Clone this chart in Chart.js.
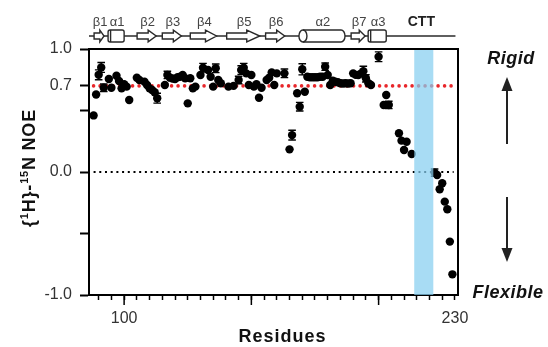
<!DOCTYPE html>
<html>
<head>
<meta charset="utf-8">
<script src="https://cdn.jsdelivr.net/npm/chart.js@4.4.0/dist/chart.umd.min.js"></script>
<style>
  html, body { margin: 0; padding: 0; background: #fff; }
</style>
</head>
<body>
<canvas id="noeChart" width="548" height="347"></canvas>
<script>
/* --- DATA --- */
const residues = [88, 89, 90, 91, 92, 94, 95, 97, 98, 99, 100, 101, 102, 105, 106, 108, 109, 110, 111, 112, 113,
  116, 117, 118, 119, 120, 121, 122, 123, 124, 125, 126, 127, 128, 130, 131, 133, 134, 135, 136, 137, 138,
  141, 143, 145, 146, 147, 148, 149, 150, 151, 152, 153, 154, 156, 157, 158, 159, 160, 163, 165, 166,
  168, 169, 170, 171, 172, 173, 174, 175, 176, 177, 178, 179, 180, 181, 182, 183, 184, 185, 186, 187,
  188, 189, 190, 191, 192, 193, 194, 195, 196, 197, 200, 202, 203, 204, 208, 209, 210, 211, 213,
  222, 223, 224, 225, 226, 227, 228, 229];
const noeValues = [0.46, 0.63, 0.79, 0.85, 0.685, 0.756, 0.685, 0.783, 0.74, 0.68, 0.713, 0.694, 0.585, 0.767, 0.748, 0.734, 0.707, 0.68, 0.667, 0.648, 0.60,
  0.707, 0.789, 0.767, 0.76, 0.756, 0.77, 0.775, 0.789, 0.762, 0.558, 0.762, 0.68, 0.694, 0.789, 0.848, 0.829, 0.775, 0.694, 0.843, 0.748, 0.721,
  0.694, 0.70, 0.748, 0.829, 0.848, 0.802, 0.707, 0.789, 0.694, 0.713, 0.604, 0.685, 0.748, 0.767, 0.81, 0.707, 0.802, 0.802, 0.184, 0.30,
  0.64, 0.531, 0.835, 0.653, 0.775, 0.77, 0.77, 0.77, 0.77, 0.775, 0.775, 0.856, 0.789, 0.707, 0.742, 0.734, 0.73, 0.721, 0.72, 0.721,
  0.72, 0.721, 0.802, 0.79, 0.789, 0.80, 0.82, 0.762, 0.721, 0.707, 0.937, 0.545, 0.626, 0.545, 0.315, 0.255, 0.179, 0.246, 0.146,
  -0.005, -0.024, -0.14, -0.092, -0.241, -0.303, -0.566, -0.832];
const noeErrors = [0, 0, 0.04, 0.04, 0.03, 0, 0, 0, 0, 0, 0, 0, 0, 0, 0, 0, 0, 0, 0, 0, 0.04,
  0, 0.03, 0, 0, 0, 0, 0, 0, 0, 0, 0, 0, 0, 0, 0.035, 0, 0, 0, 0.035, 0, 0,
  0, 0, 0.03, 0.035, 0.035, 0, 0, 0, 0, 0, 0, 0, 0, 0, 0, 0, 0, 0.035, 0, 0.04,
  0, 0.035, 0.045, 0, 0, 0, 0, 0, 0, 0, 0, 0.03, 0, 0, 0, 0, 0, 0, 0, 0,
  0, 0, 0, 0, 0, 0, 0.04, 0.03, 0, 0, 0.04, 0, 0, 0.03, 0, 0, 0, 0, 0,
  0.03, 0, 0, 0, 0, 0, 0, 0];

// secondary structure (residue ranges)
const ssLabels = ['β1', 'α1', 'β2', 'β3', 'β4', 'β5', 'β6', 'α2', 'β7', 'α3'];
const ssKinds = ['E', 'H', 'E', 'E', 'E', 'E', 'E', 'C', 'E', 'H'];
const ssStart = [88.2, 93.7, 105.1, 115.0, 126.0, 140.3, 155.6, 168.7, 189.2, 195.9];
const ssEnd = [92.1, 100.0, 112.6, 122.5, 136.3, 153.3, 163.1, 186.8, 194.7, 203.0];
const topoSpan = [86.2, 230.2];
const cttLabel = 'CTT';
const cttCenter = 216.8;

const flexBand = [214.0, 221.5];
const cutoffLine = 0.7;
const refSpan = [88, 229.5];

const xRange = [86.2, 231.2];
const yRange = [-1, 1];
const yTickValues = [-1, -0.5, 0, 0.5, 0.7, 1];
const yLabelled = [-1, 0, 0.7, 1];
const xTickValues = [];
for (let v = 90; v <= 230; v += 5) xTickValues.push(v);
const xMajor = [100, 150, 200];
const xLabelled = [100, 230];

/* --- PLUGINS --- */
const errorBars = {
  id: 'errorBars',
  afterDatasetsDraw(chart) {
    const { ctx, scales: { x, y } } = chart;
    ctx.save();
    ctx.strokeStyle = '#000';
    ctx.lineWidth = 1.4;
    residues.forEach((r, i) => {
      const e = noeErrors[i];
      if (!e) return;
      const px = x.getPixelForValue(r);
      const hi = y.getPixelForValue(noeValues[i] + e);
      const lo = y.getPixelForValue(noeValues[i] - e);
      ctx.beginPath();
      ctx.moveTo(px, hi); ctx.lineTo(px, lo);
      ctx.moveTo(px - 3.8, hi); ctx.lineTo(px + 3.8, hi);
      ctx.moveTo(px - 3.8, lo); ctx.lineTo(px + 3.8, lo);
      ctx.stroke();
    });
    ctx.restore();
  }
};

const bandPlugin = {
  id: 'band',
  afterDatasetsDraw(chart) {
    const { ctx, chartArea, scales: { x } } = chart;
    const x0 = x.getPixelForValue(flexBand[0]);
    const x1 = x.getPixelForValue(flexBand[1]);
    ctx.save();
    ctx.fillStyle = 'rgba(135, 206, 240, 0.72)';
    ctx.fillRect(x0, chartArea.top, x1 - x0, chartArea.bottom - chartArea.top);
    ctx.restore();
  }
};

function drawTopology(chart) {
  const { ctx, scales: { x } } = chart;
  const cy = 36;
  ctx.save();
  ctx.strokeStyle = '#2a2a2a';
  ctx.lineWidth = 1.4;
  ctx.beginPath();
  ctx.moveTo(x.getPixelForValue(topoSpan[0]), cy);
  ctx.lineTo(x.getPixelForValue(topoSpan[1]), cy);
  ctx.stroke();

  ssLabels.forEach((name, i) => {
    const x0 = x.getPixelForValue(ssStart[i]);
    const x1 = x.getPixelForValue(ssEnd[i]);
    ctx.fillStyle = '#fff';
    ctx.beginPath();
    if (ssKinds[i] === 'E') {
      const head = Math.min(13, (x1 - x0) * 0.42);
      ctx.moveTo(x0, cy - 3);
      ctx.lineTo(x1 - head, cy - 3);
      ctx.lineTo(x1 - head, cy - 5.8);
      ctx.lineTo(x1, cy);
      ctx.lineTo(x1 - head, cy + 5.8);
      ctx.lineTo(x1 - head, cy + 3);
      ctx.lineTo(x0, cy + 3);
      ctx.closePath();
      ctx.fill(); ctx.stroke();
    } else if (ssKinds[i] === 'H') {
      ctx.roundRect(x0, cy - 6, x1 - x0, 12, 2);
      ctx.fill(); ctx.stroke();
      ctx.beginPath();
      ctx.moveTo(x0 + 2.5, cy - 6); ctx.lineTo(x0 + 2.5, cy + 6);
      ctx.stroke();
    } else {
      const rx = 4;
      ctx.moveTo(x0 + rx, cy - 6);
      ctx.lineTo(x1 - rx, cy - 6);
      ctx.ellipse(x1 - rx, cy, rx, 6, 0, -Math.PI / 2, Math.PI / 2);
      ctx.lineTo(x0 + rx, cy + 6);
      ctx.ellipse(x0 + rx, cy, rx, 6, 0, Math.PI / 2, Math.PI * 1.5);
      ctx.closePath();
      ctx.fill(); ctx.stroke();
      ctx.beginPath();
      ctx.ellipse(x0 + rx, cy, rx, 6, 0, -Math.PI / 2, Math.PI / 2);
      ctx.stroke();
    }
    ctx.fillStyle = '#444';
    ctx.font = '13px "Liberation Sans"';
    ctx.textAlign = 'center';
    ctx.textBaseline = 'middle';
    ctx.fillText(name, (x0 + x1) / 2 + 1, 22);
  });

  ctx.fillStyle = '#222';
  ctx.font = 'bold 14px "Liberation Sans"';
  ctx.textAlign = 'center';
  ctx.textBaseline = 'middle';
  ctx.fillText(cttLabel, x.getPixelForValue(cttCenter), 22);
  ctx.restore();
}

function drawYTitle(ctx, cx, cy) {
  const parts = [['{', 18, 0], ['1', 11, -7], ['H}-', 18, 0], ['15', 11, -7], ['N NOE', 18, 0]];
  ctx.save();
  ctx.translate(cx, cy);
  ctx.rotate(-Math.PI / 2);
  ctx.fillStyle = '#111';
  ctx.textAlign = 'left';
  ctx.textBaseline = 'alphabetic';
  let total = 0;
  parts.forEach(p => {
    ctx.font = `bold ${p[1]}px "Liberation Sans"`;
    total += ctx.measureText(p[0]).width + 0.8 * p[0].length;
  });
  let pos = -total / 2;
  parts.forEach(p => {
    ctx.font = `bold ${p[1]}px "Liberation Sans"`;
    ctx.letterSpacing = '0.8px';
    ctx.fillText(p[0], pos, p[2]);
    pos += ctx.measureText(p[0]).width;
  });
  ctx.restore();
}

function drawArrow(ctx, x, yFrom, yTo) {
  const dir = yTo < yFrom ? -1 : 1;
  const headLen = 14;
  ctx.beginPath();
  ctx.moveTo(x, yFrom);
  ctx.lineTo(x, yTo - dir * headLen);
  ctx.stroke();
  ctx.beginPath();
  ctx.moveTo(x, yTo);
  ctx.lineTo(x - 5.5, yTo - dir * headLen);
  ctx.lineTo(x + 5.5, yTo - dir * headLen);
  ctx.closePath();
  ctx.fill();
}

const decorations = {
  id: 'decorations',
  afterDraw(chart) {
    const { ctx, chartArea, scales: { x } } = chart;
    ctx.save();
    // frame (top + right)
    ctx.strokeStyle = '#000';
    ctx.lineWidth = 2;
    ctx.beginPath();
    ctx.moveTo(chartArea.left, chartArea.top);
    ctx.lineTo(chartArea.right, chartArea.top);
    ctx.lineTo(chartArea.right, chartArea.bottom);
    ctx.stroke();

    // longer major ticks on x axis
    ctx.lineWidth = 1.5;
    xMajor.forEach(v => {
      const px = x.getPixelForValue(v);
      ctx.beginPath();
      ctx.moveTo(px, chartArea.bottom);
      ctx.lineTo(px, chartArea.bottom + 10);
      ctx.stroke();
    });

    // axis titles
    ctx.fillStyle = '#111';
    ctx.font = 'bold 18px "Liberation Sans"';
    ctx.letterSpacing = '1px';
    ctx.textAlign = 'center';
    ctx.textBaseline = 'alphabetic';
    ctx.fillText('Residues', (chartArea.left + chartArea.right) / 2 + 9, 342);
    ctx.letterSpacing = '0px';
    drawYTitle(ctx, 35, 168);

    // rigid / flexible annotation
    ctx.fillStyle = '#111';
    ctx.font = 'italic bold 18px "Liberation Sans"';
    ctx.letterSpacing = '0.5px';
    ctx.fillText('Rigid', 511, 64);
    ctx.fillText('Flexible', 508, 298);
    ctx.letterSpacing = '0px';
    ctx.strokeStyle = '#222';
    ctx.fillStyle = '#222';
    ctx.lineWidth = 2;
    drawArrow(ctx, 507, 144, 77);
    drawArrow(ctx, 507, 197, 262);

    drawTopology(chart);
    ctx.restore();
  }
};

/* --- CHART --- */
const ctx = document.getElementById('noeChart').getContext('2d');

new Chart(ctx, {
  type: 'scatter',
  data: {
    datasets: [
      {
        label: 'NOE',
        data: residues.map((r, i) => ({ x: r, y: noeValues[i] })),
        backgroundColor: '#000',
        borderColor: '#000',
        borderWidth: 0,
        pointRadius: 4.2,
        order: 1
      },
      {
        label: 'cutoff',
        data: refSpan.map(r => ({ x: r, y: cutoffLine })),
        showLine: true,
        borderColor: '#e8262a',
        borderWidth: 3.6,
        borderDash: [0, 6.5],
        borderCapStyle: 'round',
        pointRadius: 0,
        order: 2
      },
      {
        label: 'zero',
        data: refSpan.map(r => ({ x: r, y: 0 })),
        showLine: true,
        borderColor: '#000',
        borderWidth: 2,
        borderDash: [2, 3.7],
        pointRadius: 0,
        order: 3
      }
    ]
  },
  options: {
    responsive: false,
    animation: false,
    layout: { padding: { top: 49, right: 90, left: 0, bottom: 0 }, autoPadding: false },
    plugins: {
      legend: { display: false },
      tooltip: { enabled: false }
    },
    scales: {
      x: {
        type: 'linear',
        min: xRange[0],
        max: xRange[1],
        afterFit: (s) => { s.height = 52; },
        afterBuildTicks: (s) => { s.ticks = xTickValues.map(v => ({ value: v })); },
        border: { color: '#000', width: 2 },
        grid: { drawOnChartArea: false, tickLength: 5, tickWidth: 1.5, tickColor: '#000' },
        ticks: {
          autoSkip: false,
          maxRotation: 0,
          padding: 9,
          color: '#333',
          font: { family: 'Liberation Sans', size: 16 },
          callback: (v) => xLabelled.includes(v) ? String(v) : ''
        }
      },
      y: {
        type: 'linear',
        min: yRange[0],
        max: yRange[1],
        afterFit: (s) => { s.width = 89; },
        afterBuildTicks: (s) => { s.ticks = yTickValues.map(v => ({ value: v })); },
        border: { color: '#000', width: 2 },
        grid: { drawOnChartArea: false, tickLength: 9, tickWidth: 2, tickColor: '#000' },
        ticks: {
          padding: 8,
          color: '#333',
          font: { family: 'Liberation Sans', size: 16 },
          callback: (v) => yLabelled.includes(v) ? v.toFixed(1) : ''
        }
      }
    }
  },
  plugins: [errorBars, bandPlugin, decorations]
});
</script>
</body>
</html>
